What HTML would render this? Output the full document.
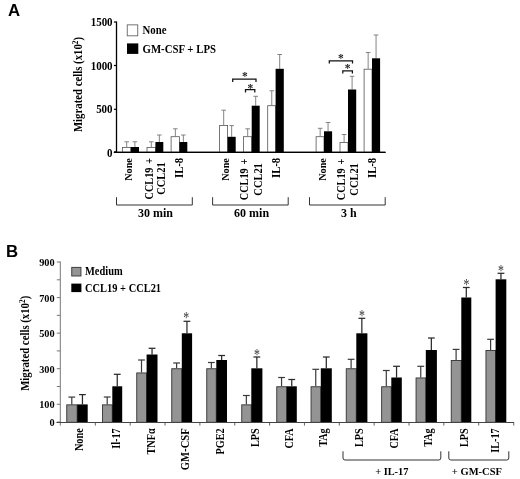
<!DOCTYPE html>
<html><head><meta charset="utf-8"><title>Figure</title>
<style>html,body{margin:0;padding:0;background:#fff}svg{display:block}.s{font-family:"Liberation Serif",serif;font-weight:bold}.a{font-family:"Liberation Sans",sans-serif;font-weight:bold}</style></head><body>
<svg width="520" height="479" viewBox="0 0 520 479">
<rect width="520" height="479" fill="#fff"/>
<text class="a" font-size="16.8" x="7.9" y="15.6">A</text>
<line x1="116.50" y1="21.50" x2="116.50" y2="152.90" stroke="#000" stroke-width="1.3"/>
<line x1="113.90" y1="22.00" x2="116.50" y2="22.00" stroke="#000" stroke-width="1.2"/>
<text class="s" transform="translate(112.60 26.00) scale(0.955 1)" font-size="11.5" text-anchor="end" fill="#000">1500</text>
<line x1="113.90" y1="65.50" x2="116.50" y2="65.50" stroke="#000" stroke-width="1.2"/>
<text class="s" transform="translate(112.60 69.50) scale(0.955 1)" font-size="11.5" text-anchor="end" fill="#000">1000</text>
<line x1="113.90" y1="109.30" x2="116.50" y2="109.30" stroke="#000" stroke-width="1.2"/>
<text class="s" transform="translate(112.60 113.30) scale(0.955 1)" font-size="11.5" text-anchor="end" fill="#000">500</text>
<line x1="113.90" y1="152.00" x2="116.50" y2="152.00" stroke="#000" stroke-width="1.2"/>
<text class="s" transform="translate(112.60 156.60) scale(0.955 1)" font-size="11.5" text-anchor="end" fill="#000">0</text>
<line x1="113.90" y1="152.30" x2="385.50" y2="152.30" stroke="#000" stroke-width="1.2"/>
<text class="s" transform="translate(81.90 84.50) rotate(-90) scale(0.92 1)" font-size="11.7" text-anchor="middle" fill="#000">Migrated cells (x10<tspan font-size="8" dy="-4.3">2</tspan><tspan dy="4.3">)</tspan></text>
<rect x="127.25" y="24.85" width="10.50" height="10.95" fill="#fff" stroke="#666" stroke-width="0.9"/>
<rect x="127.00" y="43.40" width="11.30" height="10.50" fill="#000"/>
<text class="s" transform="translate(142.50 34.40) scale(0.923 1)" font-size="11.7" text-anchor="start" fill="#000">None</text>
<text class="s" transform="translate(142.50 52.60) scale(0.923 1)" font-size="11.7" text-anchor="start" fill="#000">GM-CSF + LPS</text>
<line x1="126.70" y1="141.80" x2="126.70" y2="147.00" stroke="#777" stroke-width="0.9"/>
<line x1="124.40" y1="141.80" x2="129.00" y2="141.80" stroke="#777" stroke-width="0.9"/>
<line x1="134.90" y1="141.80" x2="134.90" y2="147.00" stroke="#777" stroke-width="0.9"/>
<line x1="132.60" y1="141.80" x2="137.20" y2="141.80" stroke="#777" stroke-width="0.9"/>
<rect x="122.40" y="147.40" width="8.40" height="4.60" fill="#fff" stroke="#555" stroke-width="0.8"/>
<rect x="130.80" y="147.00" width="8.20" height="5.00" fill="#000"/>
<line x1="151.30" y1="141.80" x2="151.30" y2="147.00" stroke="#777" stroke-width="0.9"/>
<line x1="149.00" y1="141.80" x2="153.60" y2="141.80" stroke="#777" stroke-width="0.9"/>
<line x1="159.35" y1="135.00" x2="159.35" y2="142.00" stroke="#777" stroke-width="0.9"/>
<line x1="157.05" y1="135.00" x2="161.65" y2="135.00" stroke="#777" stroke-width="0.9"/>
<rect x="147.00" y="147.40" width="8.40" height="4.60" fill="#fff" stroke="#555" stroke-width="0.8"/>
<rect x="155.40" y="142.00" width="7.90" height="10.00" fill="#000"/>
<line x1="175.35" y1="128.80" x2="175.35" y2="136.30" stroke="#777" stroke-width="0.9"/>
<line x1="173.05" y1="128.80" x2="177.65" y2="128.80" stroke="#777" stroke-width="0.9"/>
<line x1="183.35" y1="135.00" x2="183.35" y2="142.00" stroke="#777" stroke-width="0.9"/>
<line x1="181.05" y1="135.00" x2="185.65" y2="135.00" stroke="#777" stroke-width="0.9"/>
<rect x="171.10" y="136.70" width="8.30" height="15.30" fill="#fff" stroke="#555" stroke-width="0.8"/>
<rect x="179.40" y="142.00" width="7.90" height="10.00" fill="#000"/>
<line x1="223.70" y1="110.20" x2="223.70" y2="125.00" stroke="#777" stroke-width="0.9"/>
<line x1="221.40" y1="110.20" x2="226.00" y2="110.20" stroke="#777" stroke-width="0.9"/>
<line x1="231.65" y1="125.60" x2="231.65" y2="136.80" stroke="#777" stroke-width="0.9"/>
<line x1="229.35" y1="125.60" x2="233.95" y2="125.60" stroke="#777" stroke-width="0.9"/>
<rect x="219.60" y="125.40" width="8.00" height="26.60" fill="#fff" stroke="#555" stroke-width="0.8"/>
<rect x="227.60" y="136.80" width="8.10" height="15.20" fill="#000"/>
<line x1="247.70" y1="128.80" x2="247.70" y2="136.30" stroke="#777" stroke-width="0.9"/>
<line x1="245.40" y1="128.80" x2="250.00" y2="128.80" stroke="#777" stroke-width="0.9"/>
<line x1="255.70" y1="96.30" x2="255.70" y2="105.70" stroke="#777" stroke-width="0.9"/>
<line x1="253.40" y1="96.30" x2="258.00" y2="96.30" stroke="#777" stroke-width="0.9"/>
<rect x="243.50" y="136.70" width="8.20" height="15.30" fill="#fff" stroke="#555" stroke-width="0.8"/>
<rect x="251.70" y="105.70" width="8.00" height="46.30" fill="#000"/>
<line x1="271.75" y1="90.80" x2="271.75" y2="105.30" stroke="#777" stroke-width="0.9"/>
<line x1="269.45" y1="90.80" x2="274.05" y2="90.80" stroke="#777" stroke-width="0.9"/>
<line x1="279.70" y1="54.50" x2="279.70" y2="68.80" stroke="#777" stroke-width="0.9"/>
<line x1="277.40" y1="54.50" x2="282.00" y2="54.50" stroke="#777" stroke-width="0.9"/>
<rect x="267.70" y="105.70" width="7.90" height="46.30" fill="#fff" stroke="#555" stroke-width="0.8"/>
<rect x="275.60" y="68.80" width="8.20" height="83.20" fill="#000"/>
<line x1="320.15" y1="128.30" x2="320.15" y2="136.30" stroke="#777" stroke-width="0.9"/>
<line x1="317.85" y1="128.30" x2="322.45" y2="128.30" stroke="#777" stroke-width="0.9"/>
<line x1="328.05" y1="122.50" x2="328.05" y2="131.30" stroke="#777" stroke-width="0.9"/>
<line x1="325.75" y1="122.50" x2="330.35" y2="122.50" stroke="#777" stroke-width="0.9"/>
<rect x="316.10" y="136.70" width="7.90" height="15.30" fill="#fff" stroke="#555" stroke-width="0.8"/>
<rect x="324.00" y="131.30" width="8.10" height="20.70" fill="#000"/>
<line x1="344.10" y1="134.50" x2="344.10" y2="142.00" stroke="#777" stroke-width="0.9"/>
<line x1="341.80" y1="134.50" x2="346.40" y2="134.50" stroke="#777" stroke-width="0.9"/>
<line x1="352.10" y1="76.30" x2="352.10" y2="89.50" stroke="#777" stroke-width="0.9"/>
<line x1="349.80" y1="76.30" x2="354.40" y2="76.30" stroke="#777" stroke-width="0.9"/>
<rect x="340.00" y="142.40" width="8.00" height="9.60" fill="#fff" stroke="#555" stroke-width="0.8"/>
<rect x="348.00" y="89.50" width="8.20" height="62.50" fill="#000"/>
<line x1="368.15" y1="52.50" x2="368.15" y2="68.80" stroke="#777" stroke-width="0.9"/>
<line x1="365.85" y1="52.50" x2="370.45" y2="52.50" stroke="#777" stroke-width="0.9"/>
<line x1="376.05" y1="35.00" x2="376.05" y2="58.30" stroke="#777" stroke-width="0.9"/>
<line x1="373.75" y1="35.00" x2="378.35" y2="35.00" stroke="#777" stroke-width="0.9"/>
<rect x="364.10" y="69.20" width="7.90" height="82.80" fill="#fff" stroke="#555" stroke-width="0.8"/>
<rect x="372.00" y="58.30" width="8.10" height="93.70" fill="#000"/>
<line x1="113.90" y1="152.30" x2="385.50" y2="152.30" stroke="#000" stroke-width="1.2"/>
<path d="M232.70 82.00V79.20H256.00V82.00" fill="none" stroke="#111" stroke-width="1.25"/>
<text class="s" transform="translate(244.80 74.70) scale(1.0 1.05)" x="0" y="5.40" font-size="11.5" text-anchor="middle" fill="#222" style="font-weight:bold">*</text>
<path d="M245.50 92.50V89.70H254.80V92.50" fill="none" stroke="#111" stroke-width="1.25"/>
<text class="s" transform="translate(250.30 86.70) scale(1.0 1.05)" x="0" y="5.40" font-size="11.5" text-anchor="middle" fill="#222" style="font-weight:bold">*</text>
<path d="M329.30 63.40V60.80H352.50V63.40" fill="none" stroke="#111" stroke-width="1.25"/>
<text class="s" transform="translate(340.80 56.20) scale(1.0 1.05)" x="0" y="5.40" font-size="11.5" text-anchor="middle" fill="#222" style="font-weight:bold">*</text>
<path d="M342.80 73.40V70.80H352.40V73.40" fill="none" stroke="#111" stroke-width="1.25"/>
<text class="s" transform="translate(347.50 66.70) scale(1.0 1.05)" x="0" y="5.40" font-size="11.5" text-anchor="middle" fill="#222" style="font-weight:bold">*</text>
<text class="s" transform="translate(131.56 158.20) rotate(-90) scale(0.89 1)" font-size="11.4" text-anchor="end" fill="#000">None</text>
<text class="s" transform="translate(229.36 158.20) rotate(-90) scale(0.89 1)" font-size="11.4" text-anchor="end" fill="#000">None</text>
<text class="s" transform="translate(325.86 158.20) rotate(-90) scale(0.89 1)" font-size="11.4" text-anchor="end" fill="#000">None</text>
<text class="s" transform="translate(152.50 178.60) rotate(-90) scale(0.89 1)" font-size="11.51" text-anchor="middle" fill="#000">CCL19 <tspan dx="1.6">+</tspan></text>
<text class="s" transform="translate(165.37 178.60) rotate(-90) scale(0.89 1)" font-size="11.73" text-anchor="middle" fill="#000">CCL21</text>
<text class="s" transform="translate(248.30 179.40) rotate(-90) scale(0.89 1)" font-size="11.51" text-anchor="middle" fill="#000">CCL19 <tspan dx="1.6">+</tspan></text>
<text class="s" transform="translate(261.87 179.40) rotate(-90) scale(0.89 1)" font-size="11.73" text-anchor="middle" fill="#000">CCL21</text>
<text class="s" transform="translate(345.00 179.40) rotate(-90) scale(0.89 1)" font-size="11.51" text-anchor="middle" fill="#000">CCL19 <tspan dx="1.6">+</tspan></text>
<text class="s" transform="translate(358.37 179.40) rotate(-90) scale(0.89 1)" font-size="11.73" text-anchor="middle" fill="#000">CCL21</text>
<text class="s" transform="translate(183.14 157.90) rotate(-90) scale(0.89 1)" font-size="11.95" text-anchor="end" fill="#000">IL-8</text>
<text class="s" transform="translate(280.34 157.90) rotate(-90) scale(0.89 1)" font-size="11.95" text-anchor="end" fill="#000">IL-8</text>
<text class="s" transform="translate(376.24 157.90) rotate(-90) scale(0.89 1)" font-size="11.95" text-anchor="end" fill="#000">IL-8</text>
<path d="M116.50 197.20V205.00H192.30V197.20" fill="none" stroke="#333" stroke-width="1.0"/>
<path d="M212.60 197.20V205.00H288.20V197.20" fill="none" stroke="#333" stroke-width="1.0"/>
<path d="M309.50 197.20V205.00H385.20V197.20" fill="none" stroke="#333" stroke-width="1.0"/>
<text class="s" transform="translate(155.50 217.20) scale(0.945 1)" font-size="12.7" text-anchor="middle" fill="#000">30 min</text>
<text class="s" transform="translate(251.60 217.20) scale(0.945 1)" font-size="12.7" text-anchor="middle" fill="#000">60 min</text>
<text class="s" transform="translate(348.80 217.20) scale(0.945 1)" font-size="12.7" text-anchor="middle" fill="#000">3 h</text>
<text class="a" font-size="16.8" x="5.9" y="256.6">B</text>
<line x1="60.30" y1="261.50" x2="60.30" y2="425.60" stroke="#777" stroke-width="1.0"/>
<line x1="56.80" y1="422.05" x2="60.30" y2="422.05" stroke="#777" stroke-width="1.0"/>
<line x1="56.80" y1="404.27" x2="60.30" y2="404.27" stroke="#777" stroke-width="1.0"/>
<line x1="56.80" y1="386.49" x2="60.30" y2="386.49" stroke="#777" stroke-width="1.0"/>
<line x1="56.80" y1="368.71" x2="60.30" y2="368.71" stroke="#777" stroke-width="1.0"/>
<line x1="56.80" y1="350.93" x2="60.30" y2="350.93" stroke="#777" stroke-width="1.0"/>
<line x1="56.80" y1="333.15" x2="60.30" y2="333.15" stroke="#777" stroke-width="1.0"/>
<line x1="56.80" y1="315.37" x2="60.30" y2="315.37" stroke="#777" stroke-width="1.0"/>
<line x1="56.80" y1="297.59" x2="60.30" y2="297.59" stroke="#777" stroke-width="1.0"/>
<line x1="56.80" y1="279.81" x2="60.30" y2="279.81" stroke="#777" stroke-width="1.0"/>
<line x1="56.80" y1="262.03" x2="60.30" y2="262.03" stroke="#777" stroke-width="1.0"/>
<text class="s" transform="translate(54.60 266.13) scale(0.936 1)" font-size="11" text-anchor="end" fill="#000">900</text>
<text class="s" transform="translate(54.60 301.69) scale(0.936 1)" font-size="11" text-anchor="end" fill="#000">700</text>
<text class="s" transform="translate(54.60 337.25) scale(0.936 1)" font-size="11" text-anchor="end" fill="#000">500</text>
<text class="s" transform="translate(54.60 372.81) scale(0.936 1)" font-size="11" text-anchor="end" fill="#000">300</text>
<text class="s" transform="translate(54.60 408.37) scale(0.936 1)" font-size="11" text-anchor="end" fill="#000">100</text>
<text class="s" transform="translate(54.60 426.15) scale(0.936 1)" font-size="11" text-anchor="end" fill="#000">0</text>
<line x1="56.70" y1="422.55" x2="514.00" y2="422.55" stroke="#444" stroke-width="1.1"/>
<line x1="95.35" y1="422.30" x2="95.35" y2="425.60" stroke="#666" stroke-width="1.0"/>
<line x1="130.20" y1="422.30" x2="130.20" y2="425.60" stroke="#666" stroke-width="1.0"/>
<line x1="165.05" y1="422.30" x2="165.05" y2="425.60" stroke="#666" stroke-width="1.0"/>
<line x1="199.90" y1="422.30" x2="199.90" y2="425.60" stroke="#666" stroke-width="1.0"/>
<line x1="234.75" y1="422.30" x2="234.75" y2="425.60" stroke="#666" stroke-width="1.0"/>
<line x1="269.60" y1="422.30" x2="269.60" y2="425.60" stroke="#666" stroke-width="1.0"/>
<line x1="304.45" y1="422.30" x2="304.45" y2="425.60" stroke="#666" stroke-width="1.0"/>
<line x1="339.30" y1="422.30" x2="339.30" y2="425.60" stroke="#666" stroke-width="1.0"/>
<line x1="374.15" y1="422.30" x2="374.15" y2="425.60" stroke="#666" stroke-width="1.0"/>
<line x1="409.00" y1="422.30" x2="409.00" y2="425.60" stroke="#666" stroke-width="1.0"/>
<line x1="443.85" y1="422.30" x2="443.85" y2="425.60" stroke="#666" stroke-width="1.0"/>
<line x1="478.70" y1="422.30" x2="478.70" y2="425.60" stroke="#666" stroke-width="1.0"/>
<line x1="513.75" y1="422.30" x2="513.75" y2="425.60" stroke="#666" stroke-width="1.0"/>
<text class="s" transform="translate(28.90 343.30) rotate(-90) scale(0.92 1)" font-size="11.7" text-anchor="middle" fill="#000">Migrated cells (x10<tspan font-size="8" dy="-4.3">2</tspan><tspan dy="4.3">)</tspan></text>
<rect x="71.75" y="267.35" width="9.20" height="8.65" fill="#949494" stroke="#333" stroke-width="0.9"/>
<rect x="71.30" y="283.60" width="10.10" height="8.50" fill="#000"/>
<text class="s" transform="translate(85.00 275.40) scale(0.909 1)" font-size="11.5" text-anchor="start" fill="#000">Medium</text>
<text class="s" transform="translate(85.00 292.00) scale(0.909 1)" font-size="11.5" text-anchor="start" fill="#000">CCL19 + CCL21</text>
<line x1="71.80" y1="397.10" x2="71.80" y2="404.40" stroke="#3a3a3a" stroke-width="1.2"/>
<line x1="68.40" y1="397.10" x2="75.20" y2="397.10" stroke="#3a3a3a" stroke-width="1.2"/>
<line x1="82.45" y1="394.60" x2="82.45" y2="404.40" stroke="#2a2a2a" stroke-width="1.25"/>
<line x1="79.05" y1="394.60" x2="85.85" y2="394.60" stroke="#2a2a2a" stroke-width="1.25"/>
<rect x="66.75" y="404.85" width="10.40" height="17.45" fill="#949494" stroke="#333" stroke-width="0.9"/>
<rect x="77.20" y="404.40" width="10.50" height="17.90" fill="#000"/>
<line x1="107.20" y1="397.00" x2="107.20" y2="404.40" stroke="#3a3a3a" stroke-width="1.2"/>
<line x1="103.80" y1="397.00" x2="110.60" y2="397.00" stroke="#3a3a3a" stroke-width="1.2"/>
<line x1="117.25" y1="374.30" x2="117.25" y2="386.30" stroke="#2a2a2a" stroke-width="1.25"/>
<line x1="113.85" y1="374.30" x2="120.65" y2="374.30" stroke="#2a2a2a" stroke-width="1.25"/>
<rect x="102.45" y="404.85" width="9.80" height="17.45" fill="#949494" stroke="#333" stroke-width="0.9"/>
<rect x="112.30" y="386.30" width="9.90" height="36.00" fill="#000"/>
<line x1="141.50" y1="360.00" x2="141.50" y2="372.50" stroke="#3a3a3a" stroke-width="1.2"/>
<line x1="138.10" y1="360.00" x2="144.90" y2="360.00" stroke="#3a3a3a" stroke-width="1.2"/>
<line x1="152.05" y1="348.30" x2="152.05" y2="354.50" stroke="#2a2a2a" stroke-width="1.25"/>
<line x1="148.65" y1="348.30" x2="155.45" y2="348.30" stroke="#2a2a2a" stroke-width="1.25"/>
<rect x="136.75" y="372.95" width="9.80" height="49.35" fill="#949494" stroke="#333" stroke-width="0.9"/>
<rect x="146.60" y="354.50" width="10.90" height="67.80" fill="#000"/>
<line x1="176.60" y1="363.00" x2="176.60" y2="368.30" stroke="#3a3a3a" stroke-width="1.2"/>
<line x1="173.20" y1="363.00" x2="180.00" y2="363.00" stroke="#3a3a3a" stroke-width="1.2"/>
<line x1="186.95" y1="321.30" x2="186.95" y2="333.30" stroke="#2a2a2a" stroke-width="1.25"/>
<line x1="183.55" y1="321.30" x2="190.35" y2="321.30" stroke="#2a2a2a" stroke-width="1.25"/>
<rect x="171.75" y="368.75" width="10.00" height="53.55" fill="#949494" stroke="#333" stroke-width="0.9"/>
<rect x="181.80" y="333.30" width="10.30" height="89.00" fill="#000"/>
<text class="s" transform="translate(186.35 315.50) scale(1.0 1.35)" x="0" y="5.64" font-size="12" text-anchor="middle" fill="#333" style="font-weight:normal">*</text>
<line x1="211.35" y1="362.50" x2="211.35" y2="368.30" stroke="#3a3a3a" stroke-width="1.2"/>
<line x1="207.95" y1="362.50" x2="214.75" y2="362.50" stroke="#3a3a3a" stroke-width="1.2"/>
<line x1="221.65" y1="355.50" x2="221.65" y2="360.00" stroke="#2a2a2a" stroke-width="1.25"/>
<line x1="218.25" y1="355.50" x2="225.05" y2="355.50" stroke="#2a2a2a" stroke-width="1.25"/>
<rect x="206.75" y="368.75" width="9.50" height="53.55" fill="#949494" stroke="#333" stroke-width="0.9"/>
<rect x="216.30" y="360.00" width="10.70" height="62.30" fill="#000"/>
<line x1="246.35" y1="395.50" x2="246.35" y2="404.40" stroke="#3a3a3a" stroke-width="1.2"/>
<line x1="242.95" y1="395.50" x2="249.75" y2="395.50" stroke="#3a3a3a" stroke-width="1.2"/>
<line x1="256.85" y1="357.00" x2="256.85" y2="368.30" stroke="#2a2a2a" stroke-width="1.25"/>
<line x1="253.45" y1="357.00" x2="260.25" y2="357.00" stroke="#2a2a2a" stroke-width="1.25"/>
<rect x="241.75" y="404.85" width="9.50" height="17.45" fill="#949494" stroke="#333" stroke-width="0.9"/>
<rect x="251.30" y="368.30" width="11.10" height="54.00" fill="#000"/>
<text class="s" transform="translate(256.95 352.00) scale(1.0 1.35)" x="0" y="5.64" font-size="12" text-anchor="middle" fill="#333" style="font-weight:normal">*</text>
<line x1="281.55" y1="377.50" x2="281.55" y2="386.30" stroke="#3a3a3a" stroke-width="1.2"/>
<line x1="278.15" y1="377.50" x2="284.95" y2="377.50" stroke="#3a3a3a" stroke-width="1.2"/>
<line x1="291.75" y1="379.50" x2="291.75" y2="386.30" stroke="#2a2a2a" stroke-width="1.25"/>
<line x1="288.35" y1="379.50" x2="295.15" y2="379.50" stroke="#2a2a2a" stroke-width="1.25"/>
<rect x="276.75" y="386.75" width="9.90" height="35.55" fill="#949494" stroke="#333" stroke-width="0.9"/>
<rect x="286.70" y="386.30" width="10.10" height="36.00" fill="#000"/>
<line x1="315.75" y1="369.30" x2="315.75" y2="386.30" stroke="#3a3a3a" stroke-width="1.2"/>
<line x1="312.35" y1="369.30" x2="319.15" y2="369.30" stroke="#3a3a3a" stroke-width="1.2"/>
<line x1="326.30" y1="357.00" x2="326.30" y2="368.30" stroke="#2a2a2a" stroke-width="1.25"/>
<line x1="322.90" y1="357.00" x2="329.70" y2="357.00" stroke="#2a2a2a" stroke-width="1.25"/>
<rect x="311.05" y="386.75" width="9.70" height="35.55" fill="#949494" stroke="#333" stroke-width="0.9"/>
<rect x="320.80" y="368.30" width="11.00" height="54.00" fill="#000"/>
<line x1="351.10" y1="359.30" x2="351.10" y2="368.30" stroke="#3a3a3a" stroke-width="1.2"/>
<line x1="347.70" y1="359.30" x2="354.50" y2="359.30" stroke="#3a3a3a" stroke-width="1.2"/>
<line x1="361.85" y1="318.30" x2="361.85" y2="333.30" stroke="#2a2a2a" stroke-width="1.25"/>
<line x1="358.45" y1="318.30" x2="365.25" y2="318.30" stroke="#2a2a2a" stroke-width="1.25"/>
<rect x="346.25" y="368.75" width="10.00" height="53.55" fill="#949494" stroke="#333" stroke-width="0.9"/>
<rect x="356.30" y="333.30" width="11.10" height="89.00" fill="#000"/>
<text class="s" transform="translate(361.95 313.20) scale(1.0 1.35)" x="0" y="5.64" font-size="12" text-anchor="middle" fill="#333" style="font-weight:normal">*</text>
<line x1="386.30" y1="370.50" x2="386.30" y2="386.30" stroke="#3a3a3a" stroke-width="1.2"/>
<line x1="382.90" y1="370.50" x2="389.70" y2="370.50" stroke="#3a3a3a" stroke-width="1.2"/>
<line x1="396.55" y1="366.30" x2="396.55" y2="377.50" stroke="#2a2a2a" stroke-width="1.25"/>
<line x1="393.15" y1="366.30" x2="399.95" y2="366.30" stroke="#2a2a2a" stroke-width="1.25"/>
<rect x="381.65" y="386.75" width="9.60" height="35.55" fill="#949494" stroke="#333" stroke-width="0.9"/>
<rect x="391.30" y="377.50" width="10.50" height="44.80" fill="#000"/>
<line x1="420.75" y1="366.30" x2="420.75" y2="377.50" stroke="#3a3a3a" stroke-width="1.2"/>
<line x1="417.35" y1="366.30" x2="424.15" y2="366.30" stroke="#3a3a3a" stroke-width="1.2"/>
<line x1="431.35" y1="338.00" x2="431.35" y2="350.00" stroke="#2a2a2a" stroke-width="1.25"/>
<line x1="427.95" y1="338.00" x2="434.75" y2="338.00" stroke="#2a2a2a" stroke-width="1.25"/>
<rect x="416.05" y="377.95" width="9.70" height="44.35" fill="#949494" stroke="#333" stroke-width="0.9"/>
<rect x="425.80" y="350.00" width="11.10" height="72.30" fill="#000"/>
<line x1="456.10" y1="349.40" x2="456.10" y2="360.00" stroke="#3a3a3a" stroke-width="1.2"/>
<line x1="452.70" y1="349.40" x2="459.50" y2="349.40" stroke="#3a3a3a" stroke-width="1.2"/>
<line x1="466.30" y1="287.50" x2="466.30" y2="297.50" stroke="#2a2a2a" stroke-width="1.25"/>
<line x1="462.90" y1="287.50" x2="469.70" y2="287.50" stroke="#2a2a2a" stroke-width="1.25"/>
<rect x="451.25" y="360.45" width="10.00" height="61.85" fill="#949494" stroke="#333" stroke-width="0.9"/>
<rect x="461.30" y="297.50" width="10.00" height="124.80" fill="#000"/>
<text class="s" transform="translate(466.40 282.00) scale(1.0 1.35)" x="0" y="5.64" font-size="12" text-anchor="middle" fill="#333" style="font-weight:normal">*</text>
<line x1="490.60" y1="339.30" x2="490.60" y2="350.00" stroke="#3a3a3a" stroke-width="1.2"/>
<line x1="487.20" y1="339.30" x2="494.00" y2="339.30" stroke="#3a3a3a" stroke-width="1.2"/>
<line x1="500.95" y1="273.30" x2="500.95" y2="279.30" stroke="#2a2a2a" stroke-width="1.25"/>
<line x1="497.55" y1="273.30" x2="504.35" y2="273.30" stroke="#2a2a2a" stroke-width="1.25"/>
<rect x="485.95" y="350.45" width="9.60" height="71.85" fill="#949494" stroke="#333" stroke-width="0.9"/>
<rect x="495.60" y="279.30" width="10.70" height="143.00" fill="#000"/>
<text class="s" transform="translate(501.05 268.30) scale(1.0 1.35)" x="0" y="5.64" font-size="12" text-anchor="middle" fill="#333" style="font-weight:normal">*</text>
<line x1="56.70" y1="422.55" x2="514.00" y2="422.55" stroke="#444" stroke-width="1.1"/>
<text class="s" transform="translate(82.70 428.30) rotate(-90) scale(0.89 1)" font-size="11.51" text-anchor="end" fill="#000">None</text>
<text class="s" transform="translate(120.20 428.30) rotate(-90) scale(0.89 1)" font-size="11.51" text-anchor="end" fill="#000">Il-17</text>
<text class="s" transform="translate(154.70 428.30) rotate(-90) scale(0.89 1)" font-size="11.51" text-anchor="end" fill="#000">TNFα</text>
<text class="s" transform="translate(189.14 428.30) rotate(-90) scale(0.89 1)" font-size="11.95" text-anchor="end" fill="#000">GM-CSF</text>
<text class="s" transform="translate(223.50 428.30) rotate(-90) scale(0.89 1)" font-size="11.51" text-anchor="end" fill="#000">PGE2</text>
<text class="s" transform="translate(259.00 428.30) rotate(-90) scale(0.89 1)" font-size="11.51" text-anchor="end" fill="#000">LPS</text>
<text class="s" transform="translate(292.70 428.30) rotate(-90) scale(0.89 1)" font-size="11.51" text-anchor="end" fill="#000">CFA</text>
<text class="s" transform="translate(327.20 428.30) rotate(-90) scale(0.89 1)" font-size="11.51" text-anchor="end" fill="#000">TAg</text>
<text class="s" transform="translate(363.20 428.30) rotate(-90) scale(0.89 1)" font-size="11.51" text-anchor="end" fill="#000">LPS</text>
<text class="s" transform="translate(397.70 428.30) rotate(-90) scale(0.89 1)" font-size="11.51" text-anchor="end" fill="#000">CFA</text>
<text class="s" transform="translate(432.20 428.30) rotate(-90) scale(0.89 1)" font-size="11.51" text-anchor="end" fill="#000">TAg</text>
<text class="s" transform="translate(467.70 428.30) rotate(-90) scale(0.89 1)" font-size="11.51" text-anchor="end" fill="#000">LPS</text>
<text class="s" transform="translate(498.70 428.30) rotate(-90) scale(0.89 1)" font-size="11.51" text-anchor="end" fill="#000">IL-17</text>
<path d="M343.00 451.30V458.00Q343.00 460.00 345.00 460.00H438.80Q440.80 460.00 440.80 458.00V451.30" fill="none" stroke="#333" stroke-width="1.0"/>
<path d="M448.80 451.30V458.00Q448.80 460.00 450.80 460.00H506.80Q508.80 460.00 508.80 458.00V451.30" fill="none" stroke="#333" stroke-width="1.0"/>
<text class="s" transform="translate(391.80 475.30) scale(0.92 1)" font-size="11.3" text-anchor="middle" fill="#000">+ IL-17</text>
<text class="s" transform="translate(476.90 475.30) scale(0.93 1)" font-size="11.3" text-anchor="middle" fill="#000">+ GM-CSF</text>
</svg></body></html>
